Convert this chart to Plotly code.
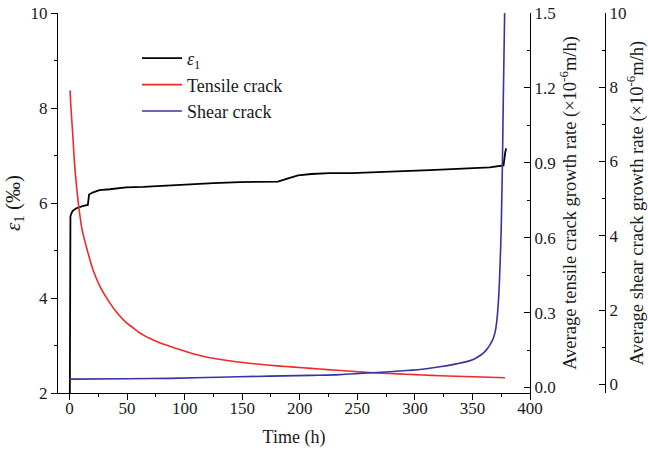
import plotly.graph_objects as go

# epsilon_1 (left axis, ‰)
t_eps = [0, 0.2, 0.8, 2, 3, 6, 9, 12, 15.9, 16.3, 17, 20, 26, 35, 49, 64, 78, 96, 107,
         125, 148, 165, 181, 190, 198.5, 210, 226, 245, 261, 275, 290, 313, 335, 354,
         365, 377, 377.6, 378.4, 379, 379.4]
eps = [0, 5.6, 5.72, 5.80, 5.84, 5.89, 5.92, 5.94, 5.96, 6.10, 6.18, 6.22, 6.27, 6.29,
       6.33, 6.34, 6.36, 6.38, 6.40, 6.42, 6.44, 6.44, 6.45, 6.52, 6.58, 6.61, 6.63,
       6.63, 6.64, 6.66, 6.67, 6.69, 6.71, 6.73, 6.75, 6.79, 6.95, 7.05, 7.12, 7.15]

# Average tensile crack growth rate (x10^-6 m/h)
t_ten = [0.5, 1, 2, 3, 4.3, 6, 8.7, 11, 14.5, 20.3, 27, 34.8, 42, 49.3, 55, 60, 65, 70,
         78.3, 87, 95.7, 105, 116, 130, 145, 160, 174, 188, 202.6, 217, 231.9, 245,
         263.8, 278, 292.8, 307, 321.7, 336, 350.7, 365, 378.3]
tensile = [1.19, 1.14, 1.07, 1.00, 0.90, 0.81, 0.70, 0.63, 0.566, 0.473, 0.40, 0.34,
           0.295, 0.26, 0.24, 0.222, 0.208, 0.196, 0.179, 0.165, 0.152, 0.138, 0.125,
           0.113, 0.103, 0.095, 0.089, 0.084, 0.079, 0.074, 0.069, 0.065, 0.059, 0.056,
           0.053, 0.050, 0.047, 0.045, 0.043, 0.041, 0.039]

# Average shear crack growth rate (x10^-6 m/h)
t_sh = [0, 50, 87, 130, 174, 210, 234.8, 254.8, 263.8, 292.8, 310, 321.7, 336, 345, 350.7,
        355, 359.4, 362.5, 365.2, 367, 368.5, 370, 371.3, 372.5, 373.5, 374.3, 375, 376,
        376.8, 378]
shear = [0.14, 0.15, 0.16, 0.19, 0.22, 0.24, 0.26, 0.30, 0.31, 0.37, 0.42, 0.47, 0.55,
         0.61, 0.67, 0.74, 0.84, 0.94, 1.06, 1.16, 1.27, 1.45, 1.75, 2.2, 2.8, 3.5, 4.2,
         5.87, 7.66, 10.05]

x_ticks = list(range(0, 401, 50))
ten_ticks = [0.0, 0.3, 0.6, 0.9, 1.2, 1.5]
ten_labels = ["0.0", "0.3", "0.6", "0.9", "1.2", "1.5"]

FONT = "Liberation Serif"
W, H = 648, 450
ml, mr, mt, mb = 58, 30, 13, 57
pw = W - ml - mr
ph = H - mt - mb
xd_end = (530 - ml) / pw
y3_pos = (605 - ml) / pw

fig = go.Figure()
fig.add_trace(go.Scatter(x=t_eps, y=eps, mode="lines", name="<i>ε</i><sub>1</sub>",
                         line=dict(color="black", width=1.8), yaxis="y"))
fig.add_trace(go.Scatter(x=t_ten, y=tensile, mode="lines", name="Tensile crack",
                         line=dict(color="#f02828", width=1.6, shape="spline",
                                   smoothing=0.6), yaxis="y2"))
fig.add_trace(go.Scatter(x=t_sh, y=shear, mode="lines", name="Shear crack",
                         line=dict(color="#3434a4", width=1.6, shape="spline"), yaxis="y3"))

TICKFONT = dict(family=FONT, size=17, color="#1a1a1a")
axcommon = dict(showline=True, linecolor="black", linewidth=1.2, showgrid=False,
                zeroline=False, tickcolor="black", tickwidth=1.2, tickfont=TICKFONT)

fig.update_layout(
    width=W, height=H,
    margin=dict(l=ml, r=mr, t=mt, b=mb, autoexpand=False),
    paper_bgcolor="white", plot_bgcolor="white",
    font=dict(family=FONT, size=17, color="#1a1a1a"),
    showlegend=True,
    legend=dict(x=(137 - ml) / pw, y=1 - (40 - mt) / ph, xanchor="left",
                yanchor="top", bgcolor="rgba(0,0,0,0)", itemwidth=40,
                font=dict(family=FONT, size=18, color="#1a1a1a"), tracegroupgap=0),
    xaxis=dict(domain=[0, xd_end], range=[-10, 400], tickvals=x_ticks, ticks="outside",
               ticklen=6, ticklabelstandoff=-7,
               minor=dict(dtick=25, tick0=0, ticks="outside", ticklen=3,
                          tickcolor="black", showgrid=False),
               title=dict(text="Time (h)", font=dict(family=FONT, size=18), standoff=13),
               anchor="y", **axcommon),
    yaxis=dict(range=[2, 10], dtick=2, ticks="outside", ticklen=6,
               minor=dict(dtick=1, ticks="outside", ticklen=3, tickcolor="black",
                          showgrid=False),
               title=dict(text="<i>ε</i><sub>1</sub> (‰)", font=dict(family=FONT, size=21),
                          standoff=4),
               anchor="x", **axcommon),
    yaxis2=dict(range=[-0.022, 1.5], tickvals=ten_ticks, ticktext=ten_labels,
                ticks="inside", ticklen=6, side="right", overlaying="y", anchor="x",
                minor=dict(dtick=0.15, tick0=0, ticks="inside", ticklen=3,
                           tickcolor="black", showgrid=False),
                title=dict(text="Average tensile crack growth rate (×10<sup>-6</sup>m/h)",
                           font=dict(family=FONT, size=18.5), standoff=7),
                **axcommon),
    yaxis3=dict(range=[-0.235, 10], dtick=2, ticks="inside", ticklen=6, side="right",
                overlaying="y", anchor="free", position=y3_pos,
                minor=dict(dtick=1, ticks="inside", ticklen=3, tickcolor="black",
                           showgrid=False),
                title=dict(text="Average shear crack growth rate (×10<sup>-6</sup>m/h)",
                           font=dict(family=FONT, size=18.5), standoff=10),
                **axcommon),
)

fig.write_html("out.html")
